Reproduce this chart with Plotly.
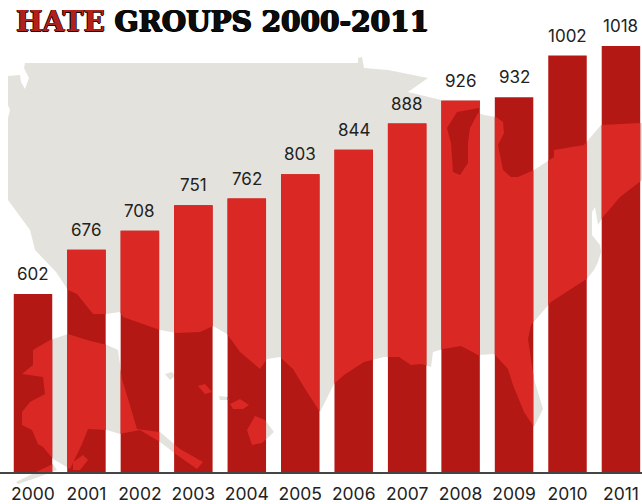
import plotly.graph_objects as go

# ---- chart data ----
years = [2000, 2001, 2002, 2003, 2004, 2005, 2006, 2007, 2008, 2009, 2010, 2011]
counts = [602, 676, 708, 751, 762, 803, 844, 888, 926, 932, 1002, 1018]
title_red = "HATE"
title_black = " GROUPS 2000-2011"

# ---- backdrop map outlines, in image pixels (x, y) ----
lower48 = [
    (25,63),(24,68),(29,78),(25,89),(21,82),(20,75),(8,76),(8,105),(10,110),(8,118),(8,200),
    (30,230),(35,250),(50,266),(56,272),(68,290),(77,294),(93,314),(106,314),(120,312),
    (123,317),(160,330),(177,333),(200,332),(213,326),(227,334),(240,352),(260,369),
    (267,359),(280,357),(293,369),(307,392),(320,412),(334,384),(344,375),(364,362),
    (384,357),(399,357),(411,365),(421,364),(431,367),(433,352),(443,349),(461,346),
    (478,355),(494,354),(508,369),(513,385),(524,412),(534,427),(543,409),(534,379),
    (528,339),(531,325),(551,302),(571,289),(586,280),(594,270),(598,262),(601,252),
    (600,245),(592,235),(592,212),(595,207),(598,225),(603,217),(620,197),(642,180),
    (642,123),(601,125),(588,140),(584,145),(554,150),(554,157),(534,170),(518,177),
    (511,177),(503,170),(498,145),(504,133),(503,122),(496,117),(484,115),(478,113),
    (470,128),(468,143),(468,163),(460,175),(453,172),(451,143),(447,128),(457,112),(479,108),
    (480,100),(441,100),(408,92),(428,78),(388,70),(364,68),(362,57),(358,58),(358,63),
]
alaska = [
    (68,334),(87,340),(107,345),(118,350),(122,379),(137,429),(160,432),(180,449),(203,462),
    (197,469),(177,455),(160,442),(140,430),(120,434),(107,430),(88,429),(82,444),(70,469),
    (53,459),(43,447),(38,444),(32,430),(22,425),(22,412),(30,402),(45,394),(43,377),
    (22,374),(33,365),(33,350),(50,340),
]
alaska_tail = [(53,464),(57,470),(36,478),(18,484),(16,482),(34,473)]
kodiak = [(73,462),(83,455),(88,460),(80,470),(73,470)]
hawaii = [
    [(247,430),(255,416),(265,420),(274,432),(262,443),(252,445)],
    [(230,404),(240,399),(249,405),(243,409),(233,409)],
    [(219,396),(228,397),(229,400),(220,400)],
    [(198,386),(205,384),(212,392),(205,394)],
    [(165,374),(172,372),(175,376),(170,380)],
]
land = [lower48, alaska, alaska_tail, kodiak] + hawaii

# ---- how the picture's scales sit in the page ----
W, H = 642, 504
BASE_PX = 472.0
BASE_VAL = 303.3
PX_PER_VAL = 0.596
X0_PX = 33.0
PX_PER_YEAR = 53.45
BAR_W = 0.72
LAND = "#e4e2dc"
LIGHT = "#da2824"
DARK = "#b41815"
INK = "#222222"


def val_to_px(v):
    return BASE_PX - (v - BASE_VAL) * PX_PER_VAL


def year_to_px(y):
    return X0_PX + (y - years[0]) * PX_PER_YEAR


def clip_half(poly, inside, cross):
    out = []
    for i, p in enumerate(poly):
        q = poly[(i + 1) % len(poly)]
        if inside(p):
            out.append(p)
            if not inside(q):
                out.append(cross(p, q))
        elif inside(q):
            out.append(cross(p, q))
    return out


def clip_rect(poly, x0, x1, y0, y1):
    def xc(a):
        return lambda p, q: (a, p[1] + (q[1] - p[1]) * (a - p[0]) / (q[0] - p[0]))

    def yc(a):
        return lambda p, q: (p[0] + (q[0] - p[0]) * (a - p[1]) / (q[1] - p[1]), a)

    for inside, cross in [
        (lambda p: p[0] >= x0, xc(x0)),
        (lambda p: p[0] <= x1, xc(x1)),
        (lambda p: p[1] >= y0, yc(y0)),
        (lambda p: p[1] <= y1, yc(y1)),
    ]:
        if not poly:
            return []
        poly = clip_half(poly, inside, cross)
    return poly


def to_xy(polys):
    xs, ys = [], []
    for poly in polys:
        if len(poly) < 3:
            continue
        xs += [p[0] for p in poly] + [poly[0][0], None]
        ys += [p[1] for p in poly] + [poly[0][1], None]
    return xs, ys


fig = go.Figure()

# grey land, lowest layer
lx, ly = to_xy(land)
fig.add_trace(go.Scatter(x=lx, y=ly, mode="lines", fill="toself", fillcolor=LAND,
                         line=dict(width=0), hoverinfo="skip", showlegend=False,
                         xaxis="x", yaxis="y"))
# the bars
fig.add_trace(go.Bar(x=years, y=[c - BASE_VAL for c in counts], base=BASE_VAL, width=BAR_W,
                     marker=dict(color=DARK, line=dict(width=0)),
                     showlegend=False, xaxis="x2", yaxis="y2"))
# land seen through each bar
pieces = []
half = BAR_W / 2 * PX_PER_YEAR
for yr, c in zip(years, counts):
    cx = year_to_px(yr)
    for poly in land:
        pieces.append(clip_rect(poly, cx - half, cx + half, val_to_px(c), BASE_PX))
px, py = to_xy(pieces)
fig.add_trace(go.Scatter(x=px, y=py, mode="lines", fill="toself", fillcolor=LIGHT,
                         line=dict(width=0), hoverinfo="skip", showlegend=False,
                         xaxis="x3", yaxis="y3"))

for yr, c in zip(years, counts):
    fig.add_annotation(x=yr, y=c, xref="x2", yref="y2", text=str(c), showarrow=False,
                       yshift=20, font=dict(family="Inter", size=17, color=INK))

fig.add_annotation(xref="paper", yref="paper", x=14 / W, y=1 - 22 / H, xanchor="left", yanchor="middle",
                   showarrow=False,
                   text=f'<span style="color:#b3201c">{title_red}</span>{title_black}',
                   font=dict(family="DejaVu Serif", size=28, color="#0d0d0d", weight=700,
                             shadow="0.8px 0 currentColor, -0.8px 0 currentColor, 0 0.6px currentColor"))

hidden = dict(visible=False, showgrid=False, zeroline=False, fixedrange=True, automargin=False)
dom_y = [(H - BASE_PX) / H, 1]
x_range = [years[0] - X0_PX / PX_PER_YEAR, years[0] + (W - X0_PX) / PX_PER_YEAR]
y_range = [BASE_VAL, BASE_VAL + BASE_PX / PX_PER_VAL]
fig.update_layout(
    width=W, height=H, margin=dict(l=0, r=0, t=0, b=0), autosize=False,
    paper_bgcolor="rgba(0,0,0,0)", plot_bgcolor="rgba(0,0,0,0)", showlegend=False,
    xaxis=dict(hidden, range=[0, W], domain=[0, 1], anchor="y"),
    yaxis=dict(hidden, range=[H, 0], domain=[0, 1], anchor="x"),
    xaxis2=dict(range=x_range, domain=[0, 1], anchor="y2", tickmode="array", automargin=False,
                tickvals=years, ticktext=[str(y) for y in years], ticks="", showgrid=False,
                zeroline=False, showline=True, linecolor="#444444", linewidth=2,
                ticklabelstandoff=5,
                tickfont=dict(family="Inter", size=17.5, color=INK)),
    yaxis2=dict(hidden, range=y_range, domain=dom_y, anchor="x2"),
    xaxis3=dict(hidden, range=[0, W], domain=[0, 1], anchor="y3"),
    yaxis3=dict(hidden, range=[H, 0], domain=[0, 1], anchor="x3"),
)
fig.write_html("out.html", config={"displayModeBar": False},
               post_script="document.body.style.margin='0';")
